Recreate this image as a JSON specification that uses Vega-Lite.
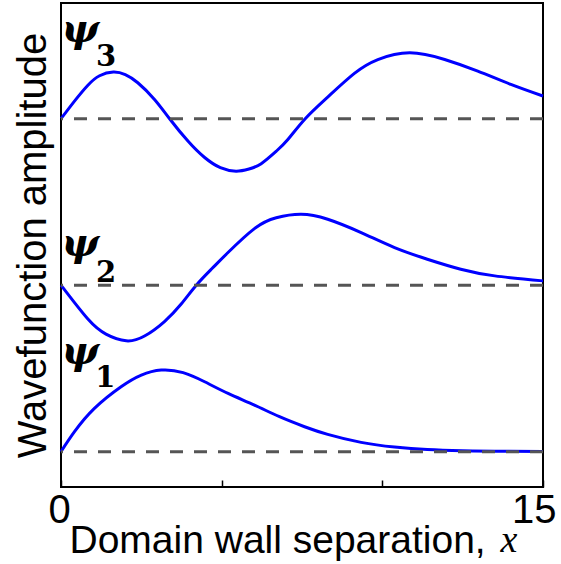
{
  "$schema": "https://vega.github.io/schema/vega-lite/v6.json",
  "width": 482,
  "height": 484,
  "autosize": "none",
  "padding": {"left": 61, "top": 3, "right": 18, "bottom": 77},
  "config": {
    "view": {"stroke": "black", "strokeWidth": 2},
    "font": "Liberation Sans"
  },
  "datasets": {
    "waves": [
      {"state": "psi1", "x": 0, "y": 0},
      {"state": "psi1", "x": 0.42, "y": 0.12},
      {"state": "psi1", "x": 1.04, "y": 0.26},
      {"state": "psi1", "x": 1.87, "y": 0.39},
      {"state": "psi1", "x": 2.5, "y": 0.46},
      {"state": "psi1", "x": 3.12, "y": 0.49},
      {"state": "psi1", "x": 3.8, "y": 0.475},
      {"state": "psi1", "x": 4.47, "y": 0.42},
      {"state": "psi1", "x": 5.2, "y": 0.35},
      {"state": "psi1", "x": 6.02, "y": 0.28},
      {"state": "psi1", "x": 6.8, "y": 0.21},
      {"state": "psi1", "x": 7.58, "y": 0.15},
      {"state": "psi1", "x": 8.3, "y": 0.104},
      {"state": "psi1", "x": 9.34, "y": 0.056},
      {"state": "psi1", "x": 10.38, "y": 0.028},
      {"state": "psi1", "x": 11.4, "y": 0.013},
      {"state": "psi1", "x": 12.5, "y": 0.006},
      {"state": "psi1", "x": 13.5, "y": 0.003},
      {"state": "psi1", "x": 15, "y": 0.001},

      {"state": "psi2", "x": 0, "y": 1},
      {"state": "psi2", "x": 0.83, "y": 0.798},
      {"state": "psi2", "x": 1.4, "y": 0.706},
      {"state": "psi2", "x": 2.03, "y": 0.666},
      {"state": "psi2", "x": 2.6, "y": 0.695},
      {"state": "psi2", "x": 3.22, "y": 0.782},
      {"state": "psi2", "x": 3.74, "y": 0.887},
      {"state": "psi2", "x": 4.21, "y": 1.0},
      {"state": "psi2", "x": 4.7, "y": 1.1},
      {"state": "psi2", "x": 5.19, "y": 1.195},
      {"state": "psi2", "x": 6.02, "y": 1.34},
      {"state": "psi2", "x": 6.7, "y": 1.405},
      {"state": "psi2", "x": 7.47, "y": 1.426},
      {"state": "psi2", "x": 8.3, "y": 1.396},
      {"state": "psi2", "x": 9.34, "y": 1.316},
      {"state": "psi2", "x": 10.38, "y": 1.226},
      {"state": "psi2", "x": 11.4, "y": 1.156},
      {"state": "psi2", "x": 12.44, "y": 1.096},
      {"state": "psi2", "x": 13.5, "y": 1.056},
      {"state": "psi2", "x": 15, "y": 1.026},

      {"state": "psi3", "x": 0, "y": 2},
      {"state": "psi3", "x": 0.42, "y": 2.106},
      {"state": "psi3", "x": 0.83, "y": 2.2},
      {"state": "psi3", "x": 1.2, "y": 2.258},
      {"state": "psi3", "x": 1.63, "y": 2.28},
      {"state": "psi3", "x": 2.0, "y": 2.265},
      {"state": "psi3", "x": 2.39, "y": 2.216},
      {"state": "psi3", "x": 2.91, "y": 2.116},
      {"state": "psi3", "x": 3.38, "y": 2.0},
      {"state": "psi3", "x": 3.95, "y": 1.866},
      {"state": "psi3", "x": 4.47, "y": 1.767},
      {"state": "psi3", "x": 4.96, "y": 1.706},
      {"state": "psi3", "x": 5.45, "y": 1.685},
      {"state": "psi3", "x": 5.85, "y": 1.698},
      {"state": "psi3", "x": 6.23, "y": 1.73},
      {"state": "psi3", "x": 6.7, "y": 1.805},
      {"state": "psi3", "x": 7.06, "y": 1.875},
      {"state": "psi3", "x": 7.6, "y": 2.0},
      {"state": "psi3", "x": 8.3, "y": 2.13},
      {"state": "psi3", "x": 9.13, "y": 2.272},
      {"state": "psi3", "x": 9.86, "y": 2.355},
      {"state": "psi3", "x": 10.85, "y": 2.396},
      {"state": "psi3", "x": 11.94, "y": 2.356},
      {"state": "psi3", "x": 12.97, "y": 2.286},
      {"state": "psi3", "x": 14.0, "y": 2.206},
      {"state": "psi3", "x": 15, "y": 2.136}
    ],
    "baselines": [
      {"level": 0},
      {"level": 1},
      {"level": 2}
    ],
    "names": [
      {"sym": "ψ", "sub": "1", "x": 0.6, "y": 0.6, "sx": 1.38, "sy": 0.44},
      {"sym": "ψ", "sub": "2", "x": 0.6, "y": 1.245, "sx": 1.4, "sy": 1.076},
      {"sym": "ψ", "sub": "3", "x": 0.6, "y": 2.535, "sx": 1.4, "sy": 2.371}
    ],
    "xvar": [
      {"t": "x", "x": 13.68, "y": -0.6}
    ]
  },
  "layer": [
    {
      "data": {"name": "waves"},
      "mark": {"type": "line", "color": "#0000ff", "strokeWidth": 3, "interpolate": "natural"},
      "encoding": {
        "x": {
          "field": "x", "type": "quantitative",
          "scale": {"domain": [0, 15], "nice": false, "zero": false},
          "axis": {
            "values": [0, 5, 10, 15],
            "labelExpr": "datum.value == 0 || datum.value == 15 ? datum.label : ''",
            "domain": false,
            "grid": false,
            "tickSize": -7,
            "tickColor": "black",
            "tickWidth": 1.5,
            "labelFont": "Liberation Sans",
            "labelFontSize": 40,
            "labelColor": "black",
            "labelPadding": 10,
            "labelBaseline": "top",
            "labelFlush": true,
            "labelFlushOffset": 13,
            "title": "Domain wall separation,",
            "titleFont": "Liberation Sans",
            "titleFontSize": 39,
            "titleFontWeight": "normal",
            "titleColor": "black",
            "titleAlign": "left",
            "titleAnchor": "start",
            "titleBaseline": "alphabetic",
            "titleX": 8,
            "titleY": 65
          }
        },
        "y": {
          "field": "y", "type": "quantitative",
          "scale": {"domain": [-0.212, 2.695], "nice": false, "zero": false},
          "axis": {
            "domain": false,
            "ticks": false,
            "labels": false,
            "grid": false,
            "title": "Wavefunction amplitude",
            "titleFont": "Liberation Sans",
            "titleFontSize": 40,
            "titleFontWeight": "normal",
            "titleColor": "black",
            "titlePadding": 8
          }
        },
        "detail": {"field": "state"}
      }
    },
    {
      "data": {"name": "baselines"},
      "mark": {"type": "rule", "color": "#555555", "strokeWidth": 3, "strokeDash": [13, 11]},
      "encoding": {
        "y": {"field": "level", "type": "quantitative"}
      }
    },
    {
      "data": {"name": "names"},
      "mark": {"type": "text", "font": "DejaVu Serif", "fontStyle": "italic", "fontWeight": "bold", "fontSize": 40, "color": "black", "align": "center", "baseline": "middle"},
      "encoding": {
        "x": {"field": "x", "type": "quantitative"},
        "y": {"field": "y", "type": "quantitative"},
        "text": {"field": "sym"}
      }
    },
    {
      "data": {"name": "names"},
      "mark": {"type": "text", "font": "DejaVu Serif", "fontWeight": "bold", "fontSize": 29, "color": "black", "align": "center", "baseline": "middle"},
      "encoding": {
        "x": {"field": "sx", "type": "quantitative"},
        "y": {"field": "sy", "type": "quantitative"},
        "text": {"field": "sub"}
      }
    },
    {
      "data": {"name": "xvar"},
      "mark": {"type": "text", "font": "Liberation Serif", "fontStyle": "italic", "fontSize": 38, "color": "black", "align": "left", "baseline": "alphabetic"},
      "encoding": {
        "x": {"field": "x", "type": "quantitative"},
        "y": {"field": "y", "type": "quantitative"},
        "text": {"field": "t"}
      }
    }
  ]
}
